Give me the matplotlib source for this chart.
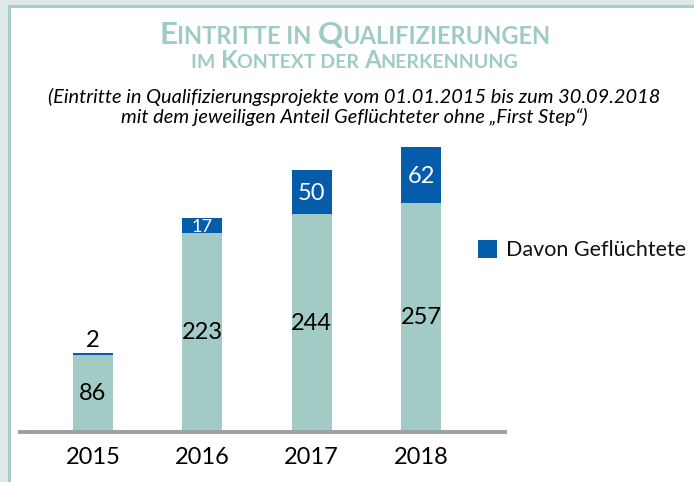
import matplotlib
matplotlib.use('Agg')
import matplotlib.pyplot as plt
from matplotlib.patches import Rectangle

# ---- data ----
years = ['2015', '2016', '2017', '2018']
base_values = [86, 223, 244, 257]
refugee_values = [2, 17, 50, 62]
legend_label = 'Davon Geflüchtete'
title_line1 = 'Eintritte in Qualifizierungen'
title_line2 = 'im Kontext der Anerkennung'
subtitle_line1 = '(Eintritte in Qualifizierungsprojekte vom 01.01.2015 bis zum 30.09.2018'
subtitle_line2 = 'mit dem jeweiligen Anteil Geflüchteter ohne \u201eFirst Step\u201c)'

TEAL = '#a3cbc6'
BLUE = '#055cab'
TITLE_C = '#9fcbc6'
FONT = 'Lato'

W, H = 694, 482
fig = plt.figure(figsize=(W / 100, H / 100), dpi=100, facecolor='#dde9e8')


def fx(x):
    return x / W


def fy(y):
    return 1 - y / H


# white panel with teal border (left & top)
panel = Rectangle((fx(8.5), -0.2), 1.5, fy(5.5) + 0.2, transform=fig.transFigure,
                  facecolor='white', edgecolor='#a6cdc8', linewidth=2.2, zorder=0)
fig.add_artist(panel)

renderer = fig.canvas.get_renderer()


def text_width(s, size, weight='bold'):
    t = fig.text(0, 0, s + '|', fontsize=size, family=FONT, weight=weight)
    t2 = fig.text(0, 0, '|', fontsize=size, family=FONT, weight=weight)
    w = t.get_window_extent(renderer).width - t2.get_window_extent(renderer).width
    t.remove(); t2.remove()
    return w


def smallcaps(s, cx, baseline, big, small, color):
    runs = []
    for ch in s:
        isbig = ch.isupper()
        if runs and runs[-1][1] == isbig:
            runs[-1][0] += ch.upper()
        else:
            runs.append([ch.upper(), isbig])
    sizes = [big if b else small for _, b in runs]
    widths = [text_width(r, sz) for (r, _), sz in zip(runs, sizes)]
    x = cx - sum(widths) / 2
    for (r, _), sz, w in zip(runs, sizes, widths):
        fig.text(fx(x), fy(baseline), r, fontsize=sz, family=FONT, weight='bold',
                 color=color, ha='left', va='baseline')
        x += w


smallcaps(title_line1, 355, 44, 22.5, 17, TITLE_C)
smallcaps(title_line2, 355, 68.5, 17.5, 14, TITLE_C)

fig.text(fx(354), fy(103), subtitle_line1, fontsize=14.4, family=FONT, style='italic',
         ha='center', va='baseline', color='black')
fig.text(fx(354), fy(123.5), subtitle_line2, fontsize=14.4, family=FONT, style='italic',
         ha='center', va='baseline', color='black')

# ---- axes ----
ax_left, ax_right, ax_bottom, ax_top = 20, 505, 432, 100
ax = fig.add_axes([fx(ax_left), fy(ax_bottom), (ax_right - ax_left) / W, (ax_bottom - ax_top) / H])
ax.set_facecolor('none')
ax.set_ylim(0, 372)
ax.set_xlim(-0.668, 3.769)

x = list(range(len(years)))
bw = 0.366
ax.bar(x, base_values, width=bw, color=TEAL, zorder=1)
ax.bar(x, refugee_values, bottom=base_values, width=bw, color=BLUE, zorder=1)

px_per_unit = (ax_bottom - ax_top) / 372.0
for xi, b, r in zip(x, base_values, refugee_values):
    ax.text(xi, b / 2, str(b), ha='center', va='center', fontsize=17, family=FONT, color='black')
    seg_px = r * px_per_unit
    if seg_px < 10:
        ax.text(xi, b + r + 3, str(r), ha='center', va='bottom', fontsize=17, family=FONT,
                color='black')
    else:
        size = min(17, (seg_px - 2) / (0.72 * 100 / 72))
        ax.text(xi, b + r / 2, str(r), ha='center', va='center_baseline', fontsize=size,
                family=FONT, color='white')

for s in ['top', 'right', 'left']:
    ax.spines[s].set_visible(False)
ax.spines['bottom'].set_color('#9aa3a8')
ax.spines['bottom'].set_linewidth(2.9)
ax.spines['bottom'].set_zorder(3)
ax.set_yticks([])
ax.set_xticks(x)
ax.set_xticklabels(years, fontsize=17, family=FONT)
ax.tick_params(axis='x', length=0, pad=11)

# ---- legend ----
fig.add_artist(Rectangle((fx(478), fy(258)), 19 / W, 18 / H, transform=fig.transFigure,
                         facecolor=BLUE, edgecolor='none'))
fig.text(fx(506), fy(249.5), legend_label, fontsize=15.5, family=FONT, ha='left', va='center',
         color='#111111')

fig.savefig('out.png', dpi=100, facecolor=fig.get_facecolor())
